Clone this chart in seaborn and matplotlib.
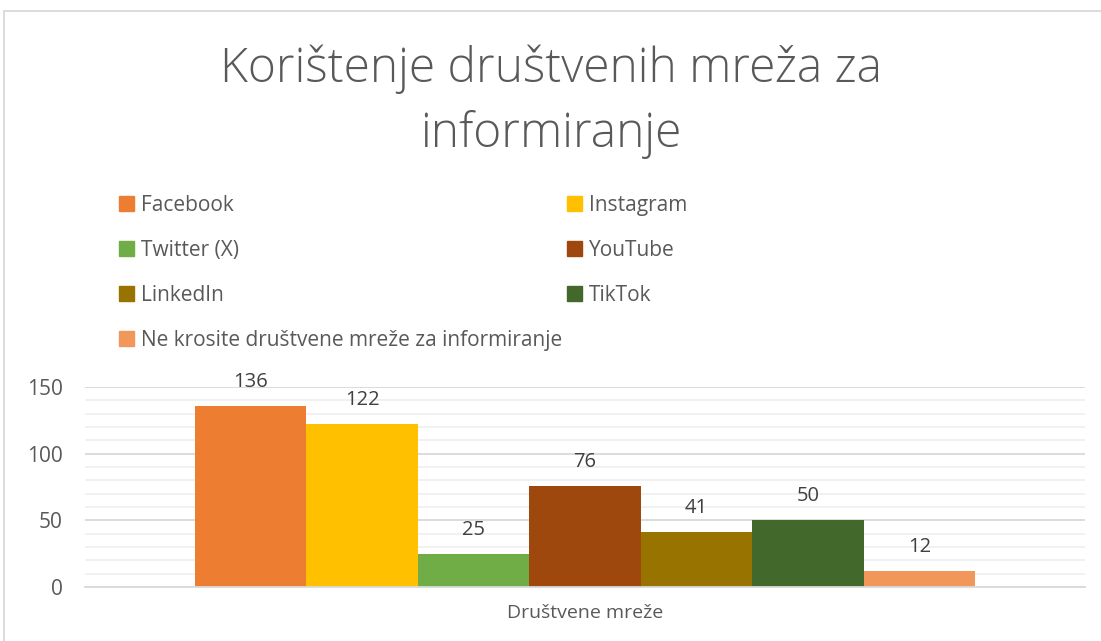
import matplotlib
matplotlib.use("Agg")
import matplotlib.pyplot as plt
import matplotlib.patches as mpatches
import seaborn as sns
import pandas as pd
from matplotlib.ticker import MultipleLocator

category = ["Društvene mreže"]
networks = ["Facebook", "Instagram", "Twitter (X)", "YouTube", "LinkedIn", "TikTok",
            "Ne krosite društvene mreže za informiranje"]
values = [136, 122, 25, 76, 41, 50, 12]
colors = ["#ED7D31", "#FFC000", "#70AD47", "#9E480E", "#997300", "#43682B", "#F1975A"]
title = "Korištenje društvenih mreža za\ninformiranje"

df = pd.DataFrame({"cat": category * len(networks), "net": networks, "val": values})

sns.set_theme(style="white")
plt.rcParams["font.family"] = ["Open Sans", "DejaVu Sans"]

fig = plt.figure(figsize=(11.01, 6.41), dpi=100)
ax = fig.add_axes([85/1101, 54/641, 1000/1101, 200/641])

sns.barplot(data=df, x="cat", y="val", hue="net", hue_order=networks,
            palette=colors, width=0.78, gap=0, saturation=1, ax=ax,
            legend=False, linewidth=0, errorbar=None)

ax.set_ylim(0, 150)
ax.set_xlim(-0.5, 0.5)
ax.yaxis.set_major_locator(MultipleLocator(50))
ax.yaxis.set_minor_locator(MultipleLocator(10))
ax.grid(which="major", axis="y", color="#D9D9D9", linewidth=1.3)
ax.grid(which="minor", axis="y", color="#F0F0F0", linewidth=1.3)
ax.set_axisbelow(True)
for s in ["top", "right", "left"]:
    ax.spines[s].set_visible(False)
ax.spines["bottom"].set_color("#D9D9D9")
ax.spines["bottom"].set_linewidth(1.3)
ax.tick_params(axis="y", which="both", length=0, labelsize=15, labelcolor="#595959", pad=16)
ax.tick_params(axis="x", length=0, labelsize=14, labelcolor="#595959", pad=12)
ax.set_xlabel("")
ax.set_ylabel("")

for cont in ax.containers:
    ax.bar_label(cont, fmt="%d", padding=10, fontsize=14.5, color="#404040", clip_on=False)

fig.text(0.5, 1 - 102/641, title, ha="center", va="center", fontsize=34.5,
         color="#595959", linespacing=1.42, fontweight="light")

handles = [mpatches.Patch(color=c, label=n) for c, n in zip(colors, networks)]
order = [0, 2, 4, 6, 1, 3, 5]
leg = fig.legend([handles[i] for i in order], [networks[i] for i in order],
                 ncol=2, loc="upper left", bbox_to_anchor=(119/1101, 1 - 195/641),
                 frameon=False, fontsize=15, handlelength=0.7, handleheight=0.7,
                 handletextpad=0.35, labelspacing=1.15, columnspacing=0.25,
                 labelcolor="#595959", borderaxespad=0, borderpad=0)

border = mpatches.Rectangle((4/1101, -0.05), 1.1, 1 - 11/641 + 0.05, transform=fig.transFigure,
                            fill=False, edgecolor="#D9D9D9", linewidth=1.3)
fig.patches.append(border)

fig.savefig("out.png", dpi=100)
